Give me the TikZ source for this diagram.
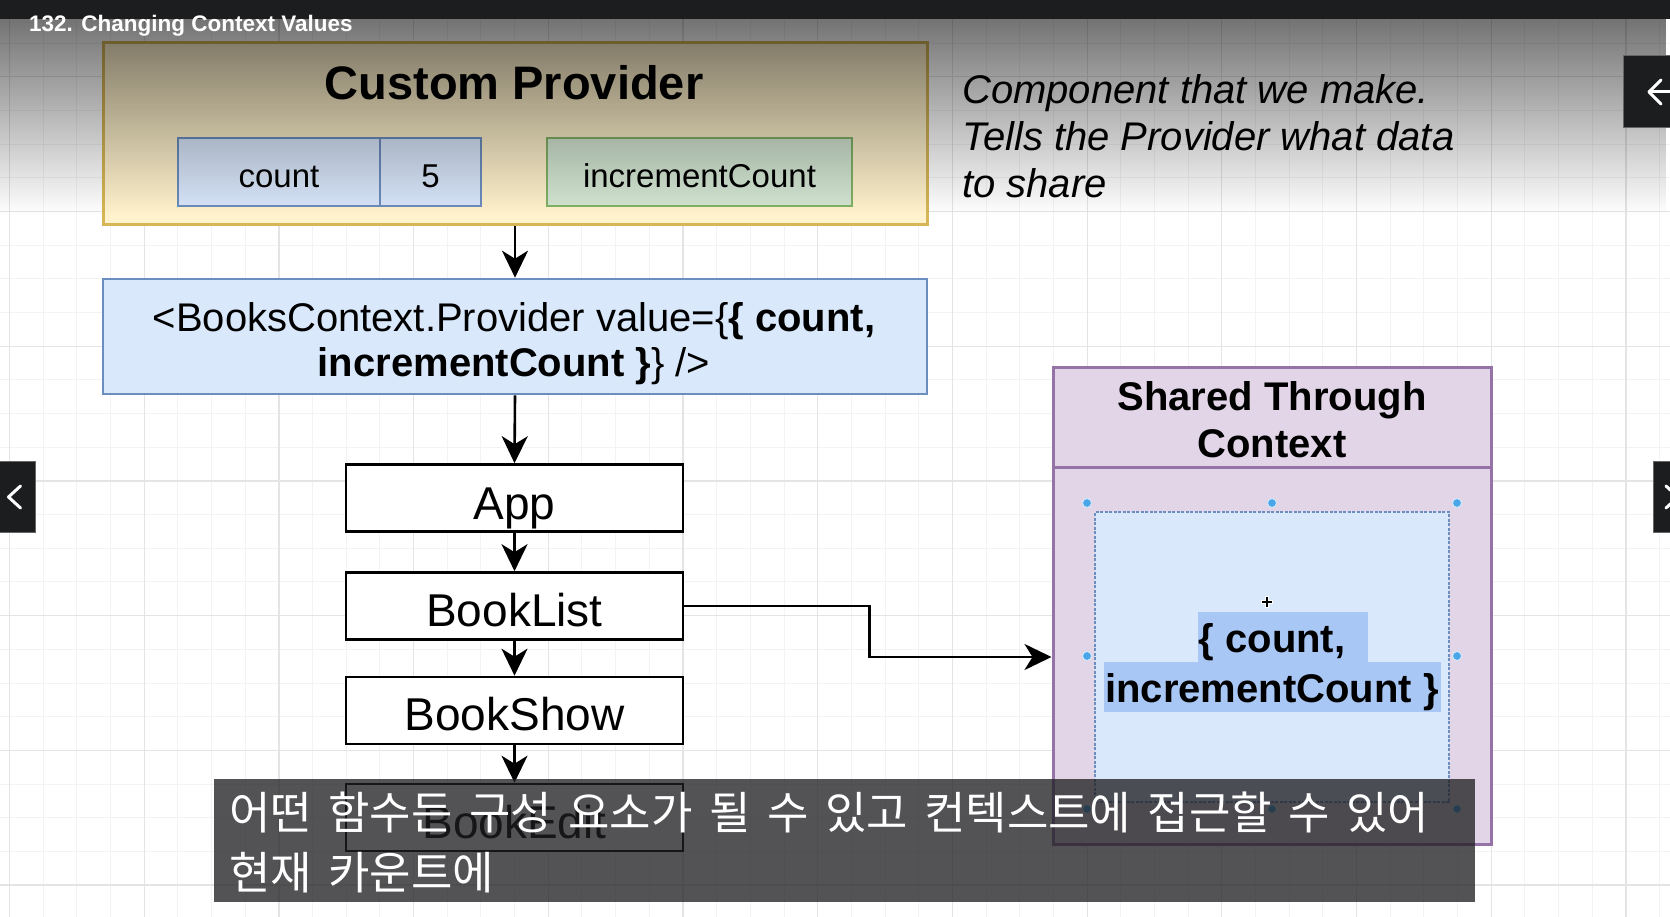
\documentclass[tikz,border=0pt]{standalone}
\usepackage{fontspec}
\setmainfont{Liberation Sans}
\newfontfamily\krfont{Noto Sans CJK KR}
\newcommand\mysubfont{\krfont\fontsize{45pt}{52pt}\selectfont\spaceskip=16.5pt\relax}
\usetikzlibrary{arrows.meta,fadings}
\definecolor{ylfill}{HTML}{FFF2CC}
\definecolor{yldraw}{HTML}{D6B656}
\definecolor{blfill}{HTML}{DAE8FC}
\definecolor{bldraw}{HTML}{6C8EBF}
\definecolor{grfill}{HTML}{D5E8D4}
\definecolor{grdraw}{HTML}{82B366}
\definecolor{pufill}{HTML}{E1D5E7}
\definecolor{pudraw}{HTML}{9673A6}
\definecolor{selhl}{HTML}{A9C7F5}
\definecolor{handle}{HTML}{4AA6E8}
\definecolor{uibar}{HTML}{1C1D1F}
\definecolor{gridmin}{HTML}{F3F3F3}
\definecolor{gridmaj}{HTML}{E4E4E4}
\definecolor{subbg}{HTML}{1E1E20}
\tikzfading[name=fadedown, top color=transparent!45, middle color=transparent!82, bottom color=transparent!100]
\begin{document}
\begin{tikzpicture}[x=1pt,y=-1pt,
  compbox/.style={draw=black, fill=white, line width=2.6pt, minimum width=337pt, minimum height=67pt, inner sep=0pt},
  bluebox/.style={draw=bldraw, fill=blfill, line width=2.6pt, minimum height=68pt, inner sep=0pt},
  greenbox/.style={draw=grdraw, fill=grfill, line width=2.6pt, minimum height=68pt, inner sep=0pt},
  arr/.style={line width=2.6pt, -{Stealth[length=27pt,width=26pt,inset=8pt]}},
  txt/.style={inner sep=0pt, anchor=base},
  f33/.style={txt, font=\fontsize{33pt}{40pt}\selectfont},
  f40/.style={txt, font=\fontsize{40pt}{47pt}\selectfont},
  b40/.style={txt, font=\bfseries\fontsize{40pt}{47pt}\selectfont},
  f46/.style={txt, font=\fontsize{46pt}{55pt}\selectfont},
  b47/.style={txt, font=\bfseries\fontsize{47pt}{56pt}\selectfont},
  i40/.style={inner sep=0pt, anchor=base west, font=\itshape\fontsize{40pt}{47pt}\selectfont},
  subtxt/.style={inner sep=0pt, anchor=base west, text=white, font=\mysubfont},
  hdl/.style={fill=handle, draw=white!75!handle, line width=1pt},
  uibtn/.style={fill=uibar, draw=black!60, line width=1pt},
  uiarrow/.style={draw=white, line width=3pt, line cap=round, line join=round}
]
\useasboundingbox (0,0) rectangle (1670,917);
\fill[white] (0,0) rectangle (1670,917);
% grid
\foreach \i in {0,...,49}{\draw[gridmin, line width=1pt] ({9.5+33.675*\i},0) -- ({9.5+33.675*\i},917);}
\foreach \i in {0,...,27}{\draw[gridmin, line width=1pt] (0,{9.5+33.675*\i}) -- (1670,{9.5+33.675*\i});}
\foreach \i in {0,...,12}{\draw[gridmaj, line width=1.2pt] ({9.5+134.7*\i},0) -- ({9.5+134.7*\i},917);}
\foreach \i in {0,...,6}{\draw[gridmaj, line width=1.2pt] (0,{76.85+134.7*\i}) -- (1670,{76.85+134.7*\i});}

% Custom provider
\node[draw=yldraw, fill=ylfill, line width=3pt, minimum width=824pt, minimum height=182pt, inner sep=0pt] (cp) at (515,134) {};
\node[b47] (cpt) at (514,100) {Custom Provider};
\node[bluebox, minimum width=202pt] (cnt) at (279,172) {};
\node[bluebox, minimum width=101pt] (five) at (430.5,172) {};
\node[greenbox, minimum width=305pt] (inc) at (699.5,172) {};
\node[f33] (cntt) at (279,188) {count};
\node[f33] (fivet) at (430.5,188) {5};
\node[f33] (inct) at (699.5,188) {incrementCount};

% Provider
\node[bluebox, minimum width=824pt, minimum height=115pt] (prov) at (515,336.5) {};
\node[f40] (provl1) at (514,331) {<BooksContext.Provider value=\{\textbf{\{ count,}};
\node[f40] (provl2) at (514,376) {\textbf{incrementCount \}}\} />};

% component chain
\node[compbox] (app) at (514.5,498) {};
\node[compbox] (booklist) at (514.5,606) {};
\node[compbox] (bookshow) at (514.5,710.5) {};
\node[compbox] (bookedit) at (514.5,817.5) {};
\node[f46] (appt) at (514.5,519) {App};
\node[f46] (booklistt) at (514.5,626) {BookList};
\node[f46] (bookshowt) at (514.5,730) {BookShow};
\node[f46] (bookeditt) at (514.5,838) {BookEdit};

\draw[arr] (cp.south) -- (prov.north);
\draw[arr] (prov.south) -- (app.north);
\draw[arr] (app.south) -- (booklist.north);
\draw[arr] (booklist.south) -- (bookshow.north);
\draw[arr] (bookshow.south) -- (bookedit.north);

% Shared through context
\node[draw=pudraw, fill=pufill, line width=3pt, minimum width=438pt, minimum height=477pt, inner sep=0pt] (shared) at (1272,605.5) {};
\coordinate (hdrl) at (1053,467);
\coordinate (hdrr) at (1491,467);
\draw[pudraw, line width=3pt] (hdrl) -- (hdrr);
\node[b40] (sh1) at (1272,410) {Shared Through};
\node[b40] (sh2) at (1272,457) {Context};
\node[draw=bldraw, fill=blfill, line width=1.5pt, dash pattern=on 3pt off 1.5pt, minimum width=354pt, minimum height=290pt, inner sep=0pt] (inner) at (1272,657) {};
\fill[selhl] (1198,612) rectangle (1368,662);
\fill[selhl] (1104,662) rectangle (1441,712);
\node[b40] (in1) at (1272,652) {\{ count,};
\node[b40] (in2) at (1272,702) {incrementCount \}};

\draw[arr] (booklist.east) -- ([xshift=185pt]booklist.east) |- (shared.west |- inner.center);

% selection handles
\foreach \p in {(1087,503),(1272,503),(1457,503),(1087,656),(1457,656),(1087,809),(1272,809),(1457,809)}
  \filldraw[hdl] \p circle (4.5);
% move cursor
\coordinate (cur) at (1267,602);
\draw[white, line width=3.5pt] ([xshift=-6pt]cur) -- ([xshift=6pt]cur) ([yshift=-6pt]cur) -- ([yshift=6pt]cur);
\draw[black, line width=1.4pt] ([xshift=-5pt]cur) -- ([xshift=5pt]cur) ([yshift=-5pt]cur) -- ([yshift=5pt]cur);

% note
\node[i40] (n1) at (962,104) {Component that we make.};
\node[i40] (n2) at (962,151) {Tells the Provider what data};
\node[i40] (n3) at (962,198) {to share};

% video overlay gradient and top bar
\fill[black, path fading=fadedown] (0,19) rectangle (1670,215);
\fill[uibar] (0,0) rectangle (1670,19);
\node[inner sep=0pt, anchor=base west, text=white, font=\bfseries\fontsize{22.5pt}{27pt}\selectfont] (title) at (29,32) {132. Changing Context Values};

% player buttons
\filldraw[uibtn] (1623,56) rectangle (1672,128);
\draw[uiarrow] (1661,80) -- (1649,92) -- (1661,104);
\draw[uiarrow] (1649,92) -- (1672,92);
\filldraw[uibtn] (-2,461) rectangle (35,532);
\draw[uiarrow] (20.5,486) -- (8.5,497) -- (20.5,508);
\filldraw[uibtn] (1653,461) rectangle (1672,532);
\draw[uiarrow] (1666,486) -- (1678,497) -- (1666,508);

% subtitles
\fill[subbg, opacity=0.76] (214,779) rectangle (1475,902);
\node[subtxt] (sub1) at (229,829) {어떤 함수든 구성 요소가 될 수 있고 컨텍스트에 접근할 수 있어};
\node[subtxt] (sub2) at (229,889) {현재 카운트에};
\end{tikzpicture}
\end{document}
